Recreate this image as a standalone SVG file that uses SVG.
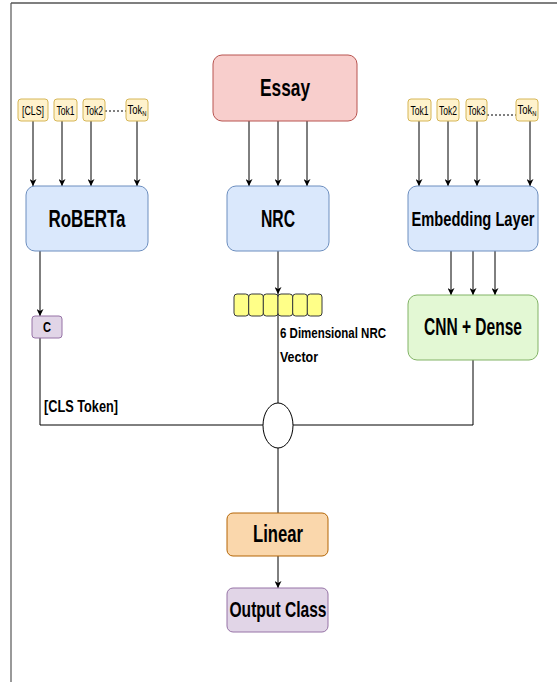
<svg xmlns="http://www.w3.org/2000/svg" width="557" height="682" viewBox="0 0 557 682">
<defs>
<marker id="arr" viewBox="0 0 10 10" refX="10" refY="5" markerWidth="7" markerHeight="7" markerUnits="userSpaceOnUse" orient="auto">
<path d="M0,0 L10,5 L0,10 L3,5 Z" fill="#000"/>
</marker>
<style>
text{font-family:"Liberation Sans Narrow","Liberation Sans",Arial,sans-serif;font-weight:bold;fill:#000}
.big{font-size:24px}
.tok{font-size:13px;font-weight:normal}
.blue{fill:#dae8fc;stroke:#6c8ebf;stroke-width:1}
.tk{fill:#fff2cc;stroke:#d6b656;stroke-width:1}
.purple{fill:#e1d5e7;stroke:#9673a6;stroke-width:1}
.ln{stroke:#000;stroke-width:1;fill:none}
.lna{stroke:#000;stroke-width:1;fill:none;marker-end:url(#arr)}
.dash{stroke:#000;stroke-width:1;stroke-dasharray:2,2;fill:none}
</style>
</defs>
<rect x="0" y="0" width="557" height="682" fill="#fff"/>
<g id="frame">
<line x1="11" y1="3" x2="557" y2="3" stroke="#000" stroke-width="1.2"/>
<line x1="11" y1="3" x2="11" y2="682" stroke="#555" stroke-width="1.2"/>
</g>
<g id="connectors">
<line class="lna" x1="33" y1="121" x2="33" y2="186"/>
<line class="lna" x1="62" y1="121" x2="62" y2="186"/>
<line class="lna" x1="91" y1="121" x2="91" y2="186"/>
<line class="lna" x1="137" y1="121" x2="137" y2="186"/>
<line class="dash" x1="105" y1="111" x2="126" y2="111"/>
<line class="lna" x1="419" y1="121" x2="419" y2="186"/>
<line class="lna" x1="448" y1="121" x2="448" y2="186"/>
<line class="lna" x1="477" y1="121" x2="477" y2="186"/>
<line class="lna" x1="530" y1="121" x2="530" y2="186"/>
<line class="dash" x1="487" y1="115" x2="516" y2="115"/>
<line class="lna" x1="249" y1="121" x2="249" y2="186"/>
<line class="lna" x1="278" y1="121" x2="278" y2="186"/>
<line class="lna" x1="307" y1="121" x2="307" y2="186"/>
<line class="lna" x1="40" y1="251" x2="40" y2="316"/>
<polyline class="ln" points="40,338 40,425 263,425"/>
<line class="lna" x1="278" y1="251" x2="278" y2="294"/>
<line class="ln" x1="278" y1="294" x2="278" y2="403"/>
<line class="lna" x1="451" y1="251" x2="451" y2="295"/>
<line class="lna" x1="473" y1="251" x2="473" y2="295"/>
<line class="lna" x1="495" y1="251" x2="495" y2="295"/>
<polyline class="ln" points="473,360 473,425 293,425"/>
<line class="ln" x1="278" y1="448" x2="278" y2="513"/>
<line class="lna" x1="278" y1="556" x2="278" y2="588"/>
</g>
<g id="essay">
<rect x="213" y="55" width="144" height="66" rx="9" fill="#f8cecc" stroke="#b85450"/>
<text class="big" x="285" y="96" text-anchor="middle" textLength="50" lengthAdjust="spacingAndGlyphs">Essay</text>
</g>
<g id="tok-cls"><rect class="tk" x="18" y="99" width="30" height="22" rx="3"/><text class="tok" x="33" y="115" text-anchor="middle" textLength="22" lengthAdjust="spacingAndGlyphs">[CLS]</text></g>
<g id="tok1-l"><rect class="tk" x="54" y="99" width="23" height="22" rx="3"/><text class="tok" x="65.5" y="115" text-anchor="middle" textLength="18" lengthAdjust="spacingAndGlyphs">Tok1</text></g>
<g id="tok2-l"><rect class="tk" x="83" y="99" width="22" height="22" rx="3"/><text class="tok" x="94" y="115" text-anchor="middle" textLength="18" lengthAdjust="spacingAndGlyphs">Tok2</text></g>
<g id="tokn-l"><rect class="tk" x="126" y="99" width="22" height="22" rx="3"/><text class="tok" x="127.5" y="114" textLength="19" lengthAdjust="spacingAndGlyphs">Tok<tspan font-size="8" dy="2">N</tspan></text></g>
<g id="tok1-r"><rect class="tk" x="408" y="99" width="23" height="22" rx="3"/><text class="tok" x="419.5" y="115" text-anchor="middle" textLength="18" lengthAdjust="spacingAndGlyphs">Tok1</text></g>
<g id="tok2-r"><rect class="tk" x="437" y="99" width="22" height="22" rx="3"/><text class="tok" x="448" y="115" text-anchor="middle" textLength="18" lengthAdjust="spacingAndGlyphs">Tok2</text></g>
<g id="tok3-r"><rect class="tk" x="466" y="99" width="21" height="22" rx="3"/><text class="tok" x="476.5" y="115" text-anchor="middle" textLength="18" lengthAdjust="spacingAndGlyphs">Tok3</text></g>
<g id="tokn-r"><rect class="tk" x="516" y="99" width="22" height="22" rx="3"/><text class="tok" x="517.5" y="114" textLength="19" lengthAdjust="spacingAndGlyphs">Tok<tspan font-size="8" dy="2">N</tspan></text></g>
<g id="roberta">
<rect class="blue" x="26" y="186" width="122" height="65" rx="9"/>
<text class="big" x="87" y="227" text-anchor="middle" textLength="77" lengthAdjust="spacingAndGlyphs">RoBERTa</text>
</g>
<g id="nrc">
<rect class="blue" x="227" y="186" width="102" height="65" rx="9"/>
<text class="big" x="278" y="227" text-anchor="middle" textLength="34" lengthAdjust="spacingAndGlyphs">NRC</text>
</g>
<g id="embedding">
<rect class="blue" x="408" y="186" width="130" height="65" rx="9"/>
<text x="473" y="226" font-size="20" text-anchor="middle" textLength="123" lengthAdjust="spacingAndGlyphs">Embedding Layer</text>
</g>
<g id="cls-c">
<rect class="purple" x="32" y="316" width="30" height="22" rx="3"/>
<text x="47" y="332" font-size="15" text-anchor="middle" textLength="8" lengthAdjust="spacingAndGlyphs">C</text>
</g>
<g id="nrc-vector">
<rect x="234" y="294" width="14.7" height="22" rx="3" fill="#ffff88" stroke="#36393d"/>
<rect x="248.7" y="294" width="14.7" height="22" rx="3" fill="#ffff88" stroke="#36393d"/>
<rect x="263.3" y="294" width="14.7" height="22" rx="3" fill="#ffff88" stroke="#36393d"/>
<rect x="278" y="294" width="14.7" height="22" rx="3" fill="#ffff88" stroke="#36393d"/>
<rect x="292.7" y="294" width="14.7" height="22" rx="3" fill="#ffff88" stroke="#36393d"/>
<rect x="307.3" y="294" width="14.7" height="22" rx="3" fill="#ffff88" stroke="#36393d"/>
<text x="280" y="338" font-size="14.5" textLength="106" lengthAdjust="spacingAndGlyphs">6 Dimensional NRC</text>
<text x="280" y="362" font-size="14.5" textLength="38" lengthAdjust="spacingAndGlyphs">Vector</text>
</g>
<g id="cnn">
<rect x="408" y="295" width="130" height="65" rx="9" fill="#e3f8d4" stroke="#82b366"/>
<text class="big" x="473" y="335" text-anchor="middle" textLength="98" lengthAdjust="spacingAndGlyphs">CNN + Dense</text>
</g>
<g id="cls-token-label">
<text x="44" y="412" font-size="17" textLength="74" lengthAdjust="spacingAndGlyphs">[CLS Token]</text>
</g>
<g id="concat">
<ellipse cx="278" cy="425.5" rx="15" ry="22.5" fill="#fff" stroke="#000"/>
</g>
<g id="linear">
<rect x="227" y="513" width="101" height="43" rx="6" fill="#fad7ac" stroke="#b46504"/>
<text class="big" x="278" y="542" text-anchor="middle" textLength="50" lengthAdjust="spacingAndGlyphs">Linear</text>
</g>
<g id="output">
<rect class="purple" x="227" y="588" width="101" height="44" rx="6"/>
<text x="278" y="617" font-size="22" text-anchor="middle" textLength="97" lengthAdjust="spacingAndGlyphs">Output Class</text>
</g>
</svg>
